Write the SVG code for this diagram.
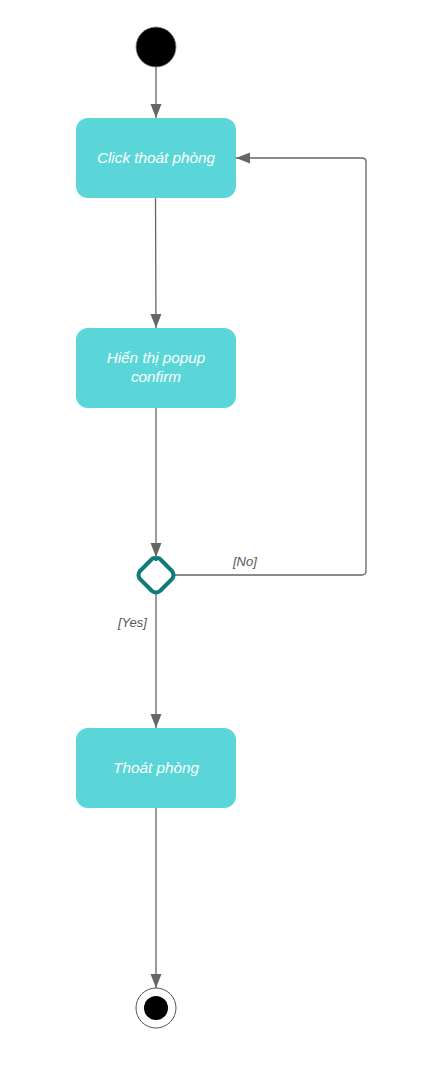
<svg xmlns="http://www.w3.org/2000/svg" width="436" height="1070" viewBox="0 0 436 1070">
<style>
.box{fill:#5ad6d8;stroke:none}
.lbl{font-family:"Liberation Sans",Arial,sans-serif;font-style:italic;font-size:15.3px;fill:#ffffff;text-anchor:middle}
.guard{font-family:"Liberation Sans",Arial,sans-serif;font-style:italic;font-size:13px;fill:#555555}
.edge{fill:none;stroke:#666666;stroke-width:1.3}
</style>
<defs>
<marker id="arr" viewBox="0 0 14 12" refX="14" refY="6" markerWidth="14" markerHeight="12" markerUnits="userSpaceOnUse" orient="auto">
<path d="M0,0.5 L14,6 L0,11.5 Z" fill="#666666"/>
</marker>
</defs>
<rect width="436" height="1070" fill="#ffffff"/>
<g id="connectors">
<path class="edge" d="M156,67 L156,118" marker-end="url(#arr)"/>
<path class="edge" d="M155.5,198 L156,328" marker-end="url(#arr)"/>
<path class="edge" d="M156,408 L156,557" marker-end="url(#arr)"/>
<path class="edge" d="M174,575 L362,575 Q366,575 366,571 L366,162 Q366,158 362,158 L236,158" marker-end="url(#arr)"/>
<path class="edge" d="M156,593 L156,728" marker-end="url(#arr)"/>
<path class="edge" d="M156,808 L156,988" marker-end="url(#arr)"/>
<text class="guard" x="233" y="566">[No]</text>
<text class="guard" x="118" y="627">[Yes]</text>
</g>
<g id="start">
<circle cx="156" cy="47" r="20" fill="#000000" stroke="#888888" stroke-width="0.8"/>
</g>
<g id="click">
<rect class="box" x="76" y="118" width="160" height="80" rx="12"/>
<text class="lbl" x="156" y="163">Click thoát phòng</text>
</g>
<g id="popup">
<rect class="box" x="76" y="328" width="160" height="80" rx="12"/>
<text class="lbl" x="156" y="363">Hiển thị popup</text>
<text class="lbl" x="156" y="382">confirm</text>
</g>
<g id="decision">
<path d="M156,559 Q158,557 160,559 L172,571 Q175,575 172,579 L160,591 Q156,594 152,591 L140,579 Q137,575 140,571 L152,559 Q154,557 156,559 Z" fill="#ffffff" stroke="#0e7c7b" stroke-width="4" stroke-linejoin="round"/>
</g>
<g id="exit">
<rect class="box" x="76" y="728" width="160" height="80" rx="12"/>
<text class="lbl" x="156" y="773">Thoát phòng</text>
</g>
<g id="end">
<circle cx="156" cy="1008" r="20" fill="#ffffff" stroke="#555555" stroke-width="1"/>
<circle cx="156" cy="1008" r="12" fill="#000000"/>
</g>
</svg>
